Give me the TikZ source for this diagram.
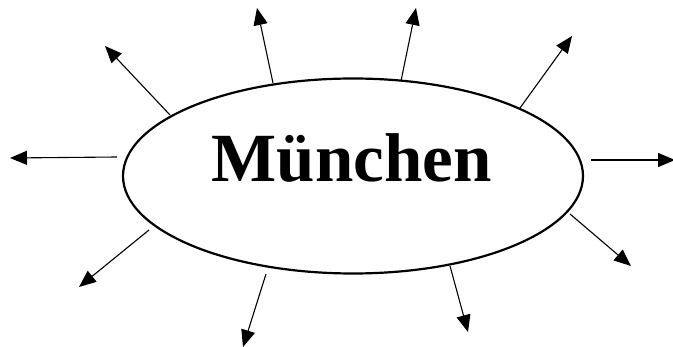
\documentclass[tikz,border=0pt]{standalone}
\usepackage{fontspec}
\setmainfont{Liberation Serif}
\usetikzlibrary{arrows.meta,shapes.geometric}
\begin{document}
\begin{tikzpicture}[x=1pt,y=-1pt,
  ray/.style={line width=1.1pt,-{Triangle[length=17pt,width=14pt]}},
  cityshape/.style={ellipse,draw,line width=2.2pt,minimum width=460pt,minimum height=195pt,inner sep=0pt}]
\useasboundingbox (0,0) rectangle (673,347);
\node[cityshape] (city) at (353,176) {};
\node[anchor=base,inner sep=0pt,font=\fontsize{69}{70}\selectfont\bfseries] (name) at (351.5,182) {München};
\coordinate (s1) at (170,115);  \coordinate (t1) at (105,46);
\coordinate (s2) at (273,83);   \coordinate (t2) at (257,8);
\coordinate (s3) at (401,81);   \coordinate (t3) at (416,8);
\coordinate (s4) at (520,108);  \coordinate (t4) at (572,36);
\coordinate (s5) at (591,160);  \coordinate (t5) at (675,160);
\coordinate (s6) at (570,214);  \coordinate (t6) at (631,266);
\coordinate (s7) at (450,266);  \coordinate (t7) at (468,332);
\coordinate (s8) at (266,274);  \coordinate (t8) at (243,347);
\coordinate (s9) at (149,230);  \coordinate (t9) at (79,287);
\coordinate (s10) at (117,157); \coordinate (t10) at (10,158);
\foreach \i in {1,...,10} {\draw[ray] (s\i) -- (t\i);}
\end{tikzpicture}
\end{document}
